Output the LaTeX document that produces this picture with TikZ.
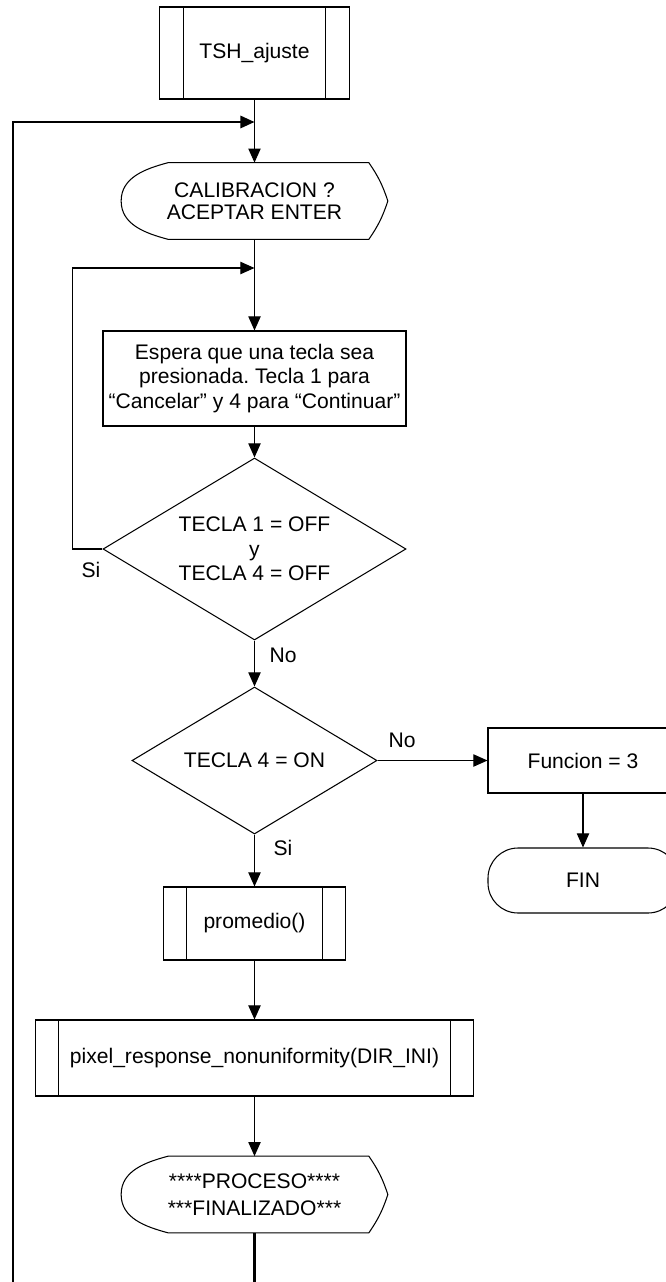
\documentclass[tikz,border=0pt]{standalone}
\usepackage{fontspec}
\setmainfont{Liberation Sans}
\usetikzlibrary{shapes.geometric, arrows.meta}
\frenchspacing

% outline of a display node: round on the left, pointed on the right
\newcommand{\dispframe}[1]{%
  \draw[line width=0.6pt] ([xshift=0.94cm]#1.north west) -- ([xshift=-0.38cm]#1.north east)
    to[bend left=8] (#1.east) to[bend left=8] ([xshift=-0.38cm]#1.south east)
    -- ([xshift=0.94cm]#1.south west) to[out=165, in=-90] (#1.west)
    to[out=90, in=195] ([xshift=0.94cm]#1.north west);}

\begin{document}
\begin{tikzpicture}[
                font=\fontsize{12}{14}\selectfont,
                box/.style={draw, line width=0.6pt, align=center, inner sep=0pt},
                procbox/.style={box, minimum width=6.06cm, minimum height=1.9cm},
                subbox/.style={box, path picture={
                    \draw[line width=0.6pt] ([xshift=#1]path picture bounding box.north west) -- ([xshift=#1]path picture bounding box.south west);
                    \draw[line width=0.6pt] ([xshift=-#1]path picture bounding box.north east) -- ([xshift=-#1]path picture bounding box.south east);}},
                decision/.style={box, diamond},
                term/.style={box, rounded corners=0.6cm, minimum width=3.8cm, minimum height=1.3cm},
                disp/.style={align=center, inner sep=0pt, minimum width=5.32cm, minimum height=1.52cm},
                lbl/.style={inner sep=0pt},
                arr/.style={line width=0.6pt, -{Triangle[length=8pt, width=7pt]}},
                back/.style={line width=1.2pt, -{Triangle[length=8pt, width=7pt]}}
            ]
                \useasboundingbox (0,0) rectangle (13.32,-25.64);
                \clip (0,0) rectangle (13.32,-25.64);

                % Main column
                \node[subbox=0.48cm, minimum width=3.8cm, minimum height=1.84cm] (tsh) at (5.09,-1.06) {TSH\_ajuste};
                \node[disp, font=\fontsize{12}{12.5}\selectfont] (calib) at (5.09,-4.02) {CALIBRACION ?\\ACEPTAR ENTER};
                \dispframe{calib}
                \node[procbox] (espera) at (5.09,-7.57) {Espera que una tecla sea\\presionada. Tecla 1 para\\“Cancelar” y 4 para “Continuar”};
                \node[decision, minimum width=6.06cm, minimum height=3.64cm, aspect=1.66] (dec1) at (5.09,-10.98) {TECLA 1 = OFF\\y\\TECLA 4 = OFF};
                \node[decision, minimum width=4.9cm, minimum height=2.94cm, aspect=1.67] (dec2) at (5.09,-15.21) {TECLA 4 = ON};
                \node[subbox=0.46cm, minimum width=3.64cm, minimum height=1.46cm] (prom) at (5.09,-18.47) {promedio()};
                \node[subbox=0.46cm, minimum width=8.76cm, minimum height=1.52cm] (pixel) at (5.09,-21.16) {pixel\_response\_nonuniformity(DIR\_INI)};
                \node[disp, font=\fontsize{12}{15.5}\selectfont] (fini) at (5.09,-23.89) {****PROCESO****\\***FINALIZADO***};
                \dispframe{fini}

                % Exit branch
                \node[box, minimum width=3.8cm, minimum height=1.3cm] (func) at (11.66,-15.21) {Funcion = 3};
                \node[term] (fin) at (11.66,-17.61) {FIN};

                % Branch labels
                \node[lbl] (si1) at (1.82,-11.4) {Si};
                \node[lbl] (no1) at (5.66,-13.1) {No};
                \node[lbl] (no2) at (8.04,-14.8) {No};
                \node[lbl] (si2) at (5.66,-16.96) {Si};

                % Connectors
                \coordinate (j1) at (5.09,-2.44);
                \coordinate (j2) at (5.09,-5.36);
                \coordinate (bot) at (0.26,-26);
                \draw[arr] (tsh) -- (calib);
                \draw[arr] (calib) -- (espera);
                \draw[arr] (espera) -- (dec1);
                \draw[arr] (dec1.west) -- ++(-0.6,0) |- (j2);
                \draw[arr] (dec1) -- (dec2);
                \draw[arr] (dec2) -- (func);
                \draw[arr] (func) -- (fin);
                \draw[arr] (dec2) -- (prom);
                \draw[arr] (prom) -- (pixel);
                \draw[arr] (pixel) -- (fini);
                \draw[back] (fini) -- (fini |- bot) -- (bot) |- (j1);
            \end{tikzpicture}
\end{document}
